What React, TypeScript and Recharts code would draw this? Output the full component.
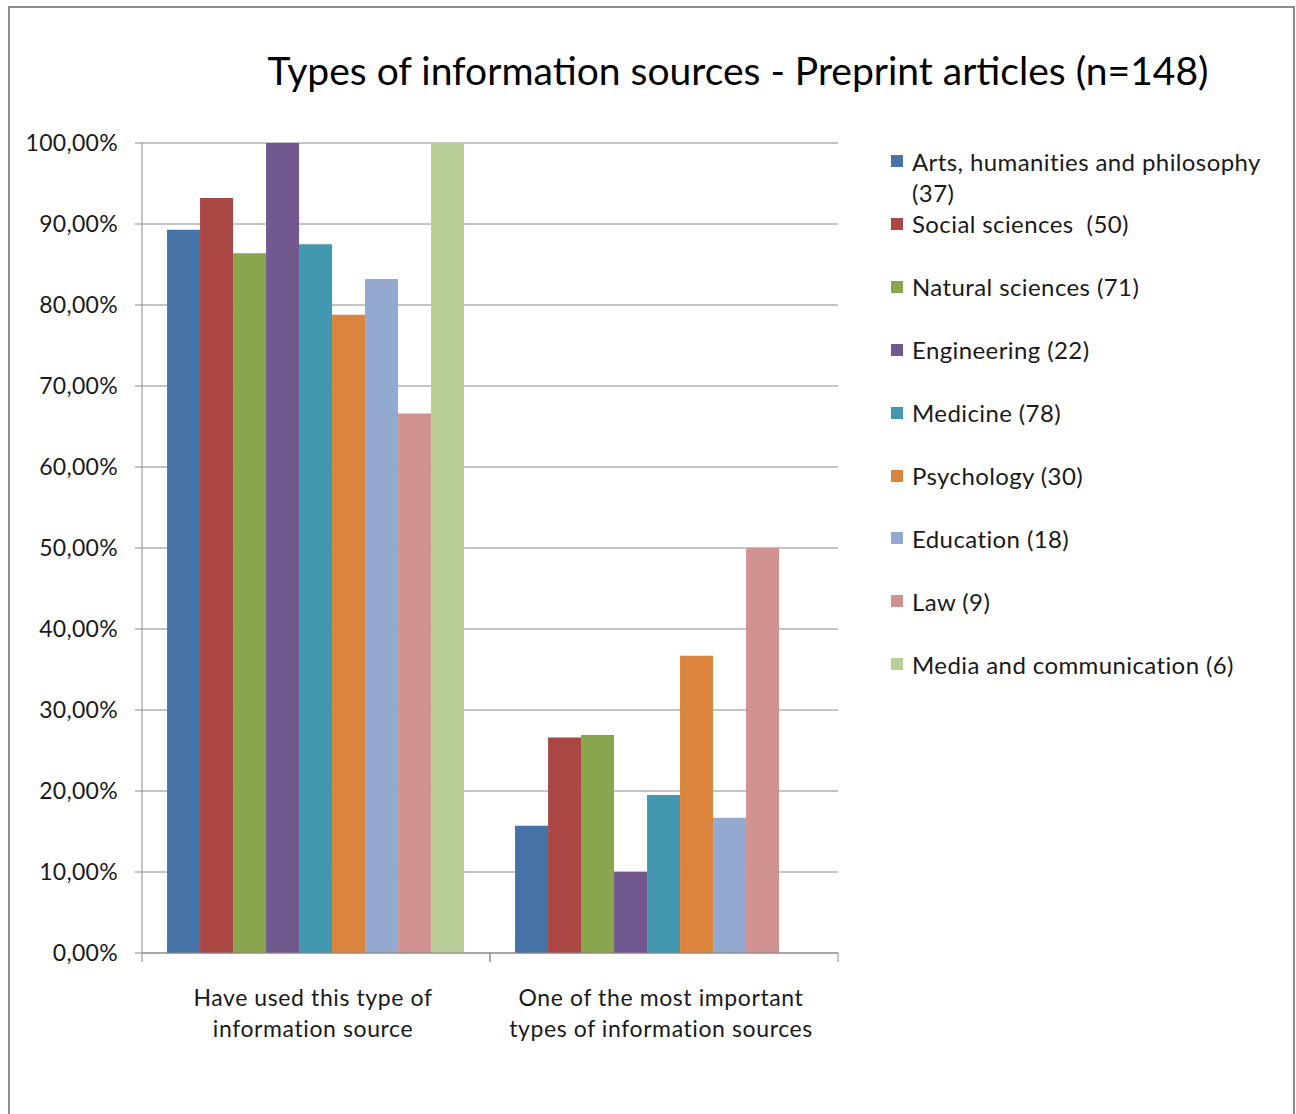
import React from 'react';
import { BarChart, Bar, XAxis, YAxis, CartesianGrid, Legend } from 'recharts';

const titleText = 'Types of information sources - Preprint articles (n=148)';

const categories = [
  'Have used this type of information source',
  'One of the most important types of information sources',
];
const categoryLines = [
  ['Have used this type of', 'information source'],
  ['One of the most important', 'types of information sources'],
];

const seriesNames = [
  'Arts, humanities and philosophy (37)',
  'Social sciences  (50)',
  'Natural sciences (71)',
  'Engineering (22)',
  'Medicine (78)',
  'Psychology (30)',
  'Education (18)',
  'Law (9)',
  'Media and communication (6)',
];
const seriesColors = [
  '#4572A7', '#AA4643', '#89A54E', '#71588F', '#4198AF',
  '#DB843D', '#93A9CF', '#D19392', '#B9CD96',
];

const usedValues = [89.3, 93.2, 86.4, 100, 87.5, 78.8, 83.2, 66.6, 100];
const importantValues = [15.7, 26.6, 26.9, 10.0, 19.5, 36.7, 16.7, 50.0, 0];

const yTicks = [0, 10, 20, 30, 40, 50, 60, 70, 80, 90, 100];

const data = categories.map((c, ci) => {
  const row: Record<string, any> = { category: c };
  seriesNames.forEach((_, si) => {
    row['s' + si] = ci === 0 ? usedValues[si] : importantValues[si];
  });
  return row;
});

const FONT = 'Lato, "Open Sans", sans-serif';
const AXIS_GRAY = '#8a8a8a';

const fmtPct = (v: number) => v.toFixed(2).replace('.', ',') + '%';

const XTick = (props: any) => {
  const { x, y, payload, index } = props;
  const half = payload && typeof payload.offset === 'number' && payload.offset > 0 ? payload.offset : 174;
  const lines = categoryLines[index] || [String(payload.value)];
  return (
    <g>
      <line x1={x - half} x2={x - half} y1={y} y2={y + 9} stroke={AXIS_GRAY} strokeWidth={1} />
      <line x1={x + half} x2={x + half} y1={y} y2={y + 9} stroke={AXIS_GRAY} strokeWidth={1} />
      {lines.map((ln: string, i: number) => (
        <text
          key={i}
          x={x - 3}
          y={y + 44 + i * 31}
          textAnchor="middle"
          dominantBaseline="central"
          fontFamily={FONT}
          fontSize={23}
          letterSpacing={0.6}
          fill="#1a1a1a"
        >
          {ln}
        </text>
      ))}
    </g>
  );
};

const LegendContent = () => (
  <div style={{ position: 'relative', width: 400, height: 560, fontFamily: FONT }}>
    {seriesNames.map((name, i) => (
      <div key={name} style={{ position: 'absolute', left: 0, top: i * 62.9, width: 400 }}>
        <div
          style={{
            position: 'absolute',
            left: 3,
            top: 9.5,
            width: 12,
            height: 12,
            background: seriesColors[i],
          }}
        />
        <div
          style={{
            position: 'absolute',
            left: 24,
            top: 0,
            width: 362,
            fontSize: 24,
            letterSpacing: 0.4,
            lineHeight: '31px',
            color: '#1a1a1a',
            whiteSpace: 'pre-wrap',
            textAlign: 'left',
          }}
        >
          {name}
        </div>
      </div>
    ))}
  </div>
);

export default function App() {
  return (
    <div
      style={{
        position: 'absolute',
        left: 0,
        top: 0,
        width: 1296,
        height: 1114,
        background: '#ffffff',
        overflow: 'hidden',
      }}
    >
      <div
        style={{
          position: 'absolute',
          left: 8,
          top: 6,
          width: 1287,
          height: 1130,
          border: '2px solid #8c8c8c',
          boxSizing: 'border-box',
        }}
      />
      <div
        style={{
          position: 'absolute',
          left: 0,
          top: 47,
          width: 1476,
          textAlign: 'center',
          fontFamily: FONT,
          fontSize: 39,
          lineHeight: '46px',
          color: '#000',
          whiteSpace: 'nowrap',
        }}
      >
        {titleText}
      </div>
      <div style={{ position: 'absolute', left: 0, top: 0 }}>
        <BarChart
          width={1296}
          height={1114}
          data={data}
          margin={{ top: 143, right: 458, bottom: 0, left: 0 }}
          barCategoryGap="7.2%"
          barGap={0}
        >
          <CartesianGrid vertical={false} stroke={AXIS_GRAY} strokeWidth={1} />
          <XAxis
            dataKey="category"
            height={161}
            axisLine={{ stroke: AXIS_GRAY, strokeWidth: 1 }}
            tickLine={false}
            tickSize={0}
            tickMargin={0}
            tick={<XTick />}
            interval={0}
          />
          <YAxis
            width={142}
            domain={[0, 100]}
            ticks={yTicks}
            interval={0}
            tickFormatter={fmtPct}
            axisLine={{ stroke: AXIS_GRAY, strokeWidth: 1 }}
            tickLine={{ stroke: AXIS_GRAY, strokeWidth: 1 }}
            tickSize={7}
            tickMargin={17}
            tick={{ fontFamily: FONT, fontSize: 23, letterSpacing: 0.3, fill: '#1a1a1a' }}
          />
          <Legend
            layout="vertical"
            align="center"
            verticalAlign="middle"
            content={<LegendContent />}
            wrapperStyle={{ position: 'absolute', left: 888, top: 145.5, width: 400, height: 560 }}
          />
          {seriesNames.map((name, i) => (
            <Bar
              key={name}
              dataKey={'s' + i}
              name={name}
              fill={seriesColors[i]}
              isAnimationActive={false}
            />
          ))}
        </BarChart>
      </div>
    </div>
  );
}
